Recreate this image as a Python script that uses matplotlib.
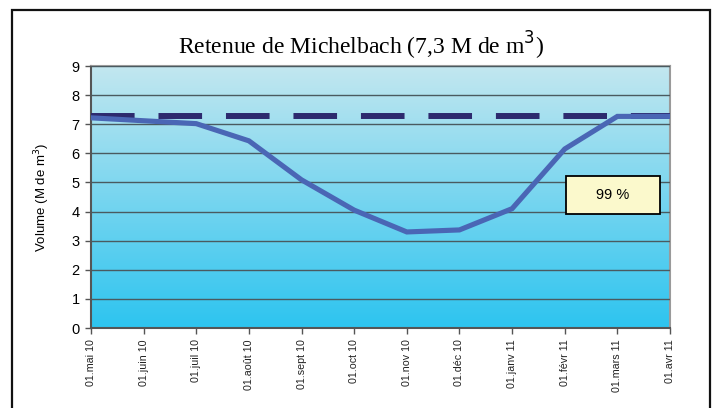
import numpy as np
import matplotlib
matplotlib.use('Agg')
import matplotlib.pyplot as plt
from matplotlib.patches import Rectangle

# data
months = ['01.mai 10', '01.juin 10', '01.juil 10', '01.août 10', '01.sept 10', '01.oct 10',
          '01.nov 10', '01.déc 10', '01.janv 11', '01.févr 11', '01.mars 11', '01.avr 11']
volume = [7.22, 7.12, 7.02, 6.43, 5.09, 4.05, 3.30, 3.37, 4.10, 6.15, 7.27, 7.27]
capacity = 7.3
fill_label = '99 %'

fig = plt.figure(figsize=(7.13, 4.08), dpi=100)
ax = fig.add_axes([0.1276, 0.196, 0.8121, 0.6422])

x = np.arange(len(months))

# background gradient
top = np.array([195, 231, 239]) / 255
bot = np.array([45, 196, 240]) / 255
t = np.linspace(0, 1, 256)[:, None]
grad = (top * (1 - t) + bot * t)[:, None, :]
ax.imshow(grad, extent=[0, len(months) - 1, 0, 9], aspect='auto', zorder=0,
          interpolation='bilinear')

ax.set_xlim(0, len(months) - 1)
ax.set_ylim(0, 9)
ax.set_yticks(range(0, 10))
ax.grid(axis='y', color='#4a5a60', linewidth=1.0, zorder=1)
ax.set_axisbelow(False)

ax.axhline(capacity, color='#2d2a6e', linewidth=4.3, dashes=(7.3, 4.0),
           solid_capstyle='butt', dash_capstyle='butt', zorder=3)
ax.plot(x, volume, color='#4a66b5', linewidth=3.7, zorder=4,
        solid_joinstyle='miter')

ax.set_xticks(x)
ax.set_xticklabels(months, rotation=90, fontsize=7.7, family='Liberation Sans',
                   color='#222222')
for lbl in ax.get_yticklabels():
    lbl.set_family('Liberation Sans')
    lbl.set_fontsize(10.5)
ax.tick_params(axis='both', direction='out', length=4, color='#555555', width=1)
ax.tick_params(axis='x', pad=4)
ax.tick_params(axis='y', pad=4)

for s in ['left', 'bottom']:
    ax.spines[s].set_color('#555555')
    ax.spines[s].set_linewidth(1.5)
for s in ['right', 'top']:
    ax.spines[s].set_color('#9a9a9a')
    ax.spines[s].set_linewidth(1.5)

ax.set_ylabel('Volume (M de m$^3$)', family='Liberation Sans', fontsize=9.5, labelpad=14)

fig.text(0.507, 0.887, 'Retenue de Michelbach (7,3 M de m$^3$)', family='Liberation Serif',
         fontsize=17, ha='center', va='center')

# percentage box
ax.add_patch(Rectangle((0.820, 0.435), 0.162, 0.145, transform=ax.transAxes,
                       facecolor='#fbf9cc', edgecolor='black', linewidth=1.3, zorder=5))
ax.text(0.901, 0.5075, fill_label, transform=ax.transAxes, ha='center', va='center',
        family='Liberation Sans', fontsize=10.5, zorder=6)

# outer frame
fig.patches.append(Rectangle((12 / 713, -0.05), 698 / 713, 1.05 - 10 / 408,
                             transform=fig.transFigure, fill=False,
                             edgecolor='#111111', linewidth=1.6))

fig.savefig('out.png', dpi=100)
